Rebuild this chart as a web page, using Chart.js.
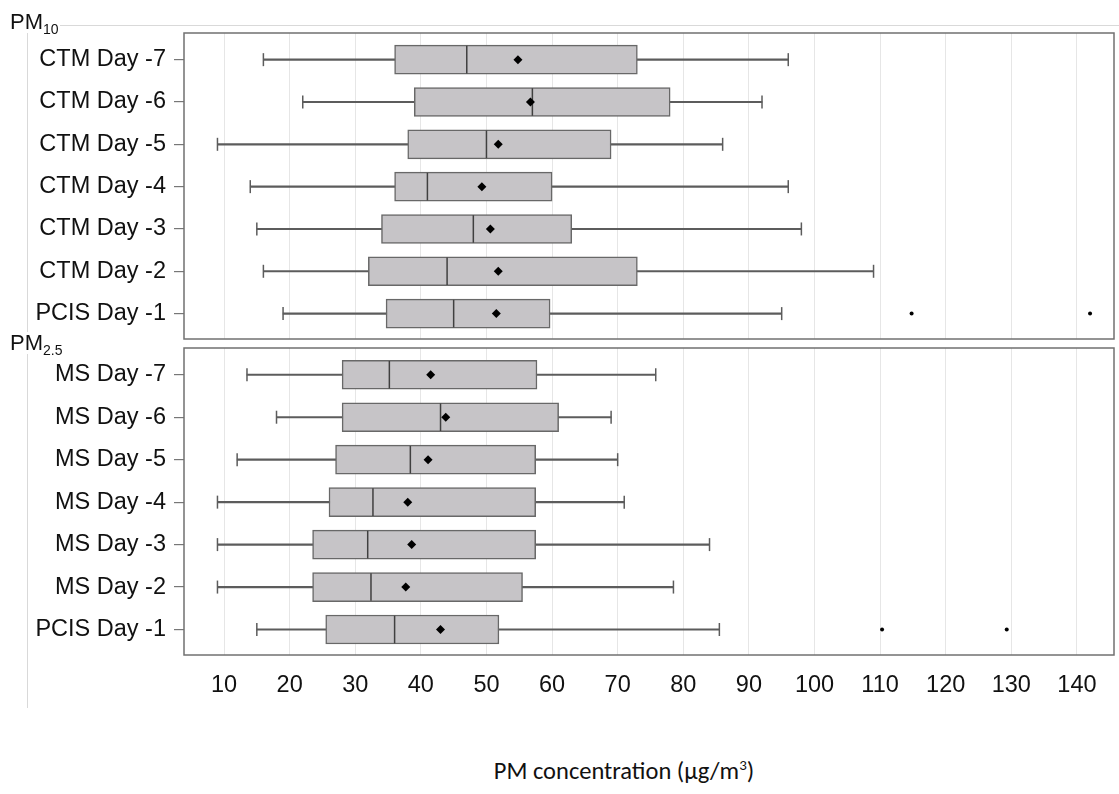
<!DOCTYPE html>
<html>
<head>
<meta charset="utf-8">
<title>PM concentration box plots</title>
<script src="https://cdn.jsdelivr.net/npm/chart.js@4.4.0/dist/chart.umd.min.js"></script>
<style>
  body { margin: 0; background: #fff; font-family: 'Liberation Sans', Arial, sans-serif; }
  #page { position: relative; width: 1119px; height: 794px; overflow: hidden; }
  .frame { position: absolute; left: 27px; top: 25px; width: 1092px; height: 682px;
           border-top: 1px solid #d9d9d9; border-left: 1px solid #d9d9d9; }
  .panel { position: absolute; left: 0; width: 1119px; }
  .group { position: absolute; left: 10px; font-size: 22px; line-height: 22px; color: #111; background: #fff; padding-right: 1px; }
  .group sub { font-size: 14px; vertical-align: -5px; line-height: 0; }
  .title { position: absolute; left: 324px; width: 600px; top: 756px; text-align: center;
           font-family: Carlito, Lato, 'Open Sans', sans-serif; font-size: 24.5px; line-height: 30px; color: #111; }
  .title sup { font-size: 15px; vertical-align: 9px; line-height: 0; }
</style>
</head>
<body>
<div id="page">
  <div class="frame"></div>
  <div class="panel" style="top:0; height:345px;"><canvas id="pm10Chart"></canvas></div>
  <div class="panel" style="top:340px; height:375px;"><canvas id="pm25Chart"></canvas></div>
  <div class="group" style="top:11px;">PM<sub>10</sub></div>
  <div class="group" style="top:332px;">PM<sub>2.5</sub></div>
  <div class="title">PM concentration (μg/m<sup>3</sup>)</div>
</div>
<script>
// x axis ticks
const xTicks = [10, 20, 30, 40, 50, 60, 70, 80, 90, 100, 110, 120, 130, 140];

// PM10 panel
const pm10Rows = ['CTM Day -7', 'CTM Day -6', 'CTM Day -5', 'CTM Day -4', 'CTM Day -3', 'CTM Day -2', 'PCIS Day -1'];
const pm10Low = [16, 22, 9, 14, 15, 16, 19];
const pm10Q1 = [36, 39, 38, 36, 34, 32, 34.7];
const pm10Median = [47, 57, 50, 41, 48, 44, 45];
const pm10Mean = [54.8, 56.7, 51.8, 49.3, 50.6, 51.8, 51.5];
const pm10Q3 = [73, 78, 69, 60, 63, 73, 59.7];
const pm10High = [96, 92, 86, 96, 98, 109, 95];
const pm10OutlierValues = [114.8, 142.0];
const pm10OutlierRows = [6, 6];

// PM2.5 panel
const pm25Rows = ['MS Day -7', 'MS Day -6', 'MS Day -5', 'MS Day -4', 'MS Day -3', 'MS Day -2', 'PCIS Day -1'];
const pm25Low = [13.5, 18, 12, 9, 9, 9, 15];
const pm25Q1 = [28, 28, 27, 26, 23.5, 23.5, 25.5];
const pm25Median = [35.2, 43, 38.4, 32.7, 31.9, 32.4, 36];
const pm25Mean = [41.5, 43.8, 41.1, 38, 38.6, 37.7, 43];
const pm25Q3 = [57.7, 61, 57.5, 57.5, 57.5, 55.5, 51.9];
const pm25High = [75.8, 69, 70, 71, 84, 78.5, 85.5];
const pm25OutlierValues = [110.3, 129.3];
const pm25OutlierRows = [6, 6];

const LINE = '#5c5c5c';
const BOX_FILL = '#c6c4c7';
const LABEL_FONT = { family: "'Liberation Sans', Arial, sans-serif", size: 23.5 };

// draws the border round the plot area
const panelFrame = {
    id: 'panelFrame',
    afterDraw(chart) {
        const a = chart.chartArea;
        const ctx = chart.ctx;
        ctx.save();
        ctx.strokeStyle = '#707070';
        ctx.lineWidth = 1.5;
        ctx.strokeRect(a.left, a.top, a.right - a.left, a.bottom - a.top);
        ctx.restore();
    }
};

function buildPanel(id, rows, low, q1, median, mean, q3, high, outVals, outRows, showTicks) {
    const ctx = document.getElementById(id).getContext('2d');
    const idx = rows.map((r, i) => i);

    const caps = [];
    idx.forEach(i => {
        caps.push({ x: low[i], y: i });
        caps.push({ x: high[i], y: i });
    });

    return new Chart(ctx, {
        type: 'bar',
        data: {
            datasets: [
                {
                    // whisker line low..high
                    data: idx.map(i => ({ x: [low[i], high[i]], y: i })),
                    backgroundColor: LINE,
                    barThickness: 1.5,
                    grouped: false,
                    order: 5
                },
                {
                    // interquartile box
                    data: idx.map(i => ({ x: [q1[i], q3[i]], y: i })),
                    backgroundColor: BOX_FILL,
                    borderColor: '#686868',
                    borderWidth: 1.5,
                    borderSkipped: false,
                    barThickness: 29,
                    grouped: false,
                    order: 4
                },
                {
                    type: 'scatter',
                    data: idx.map(i => ({ x: median[i], y: i })),
                    pointStyle: 'line',
                    rotation: 90,
                    radius: 13.8,
                    borderColor: '#404040',
                    borderWidth: 1.5,
                    order: 3
                },
                {
                    type: 'scatter',
                    data: caps,
                    pointStyle: 'line',
                    rotation: 90,
                    radius: 6.5,
                    borderColor: LINE,
                    borderWidth: 1.5,
                    order: 3
                },
                {
                    type: 'scatter',
                    data: idx.map(i => ({ x: mean[i], y: i })),
                    pointStyle: 'rectRot',
                    radius: 4.5,
                    backgroundColor: '#000',
                    borderColor: '#000',
                    borderWidth: 0,
                    order: 2
                },
                {
                    type: 'scatter',
                    data: outVals.map((v, k) => ({ x: v, y: outRows[k] })),
                    pointStyle: 'circle',
                    radius: 2,
                    backgroundColor: '#000',
                    borderWidth: 0,
                    order: 1
                }
            ]
        },
        options: {
            indexAxis: 'y',
            responsive: true,
            maintainAspectRatio: false,
            animation: false,
            events: [],
            layout: {
                autoPadding: false,
                padding: showTicks ? { top: 8, right: 5, bottom: 0, left: 0 }
                                   : { top: 33, right: 5, bottom: 6, left: 0 }
            },
            plugins: {
                legend: { display: false },
                tooltip: { enabled: false }
            },
            scales: {
                x: {
                    type: 'linear',
                    min: 3.9,
                    max: 145.65,
                    afterBuildTicks: axis => { axis.ticks = xTicks.map(v => ({ value: v })); },
                    afterFit: axis => { axis.height = showTicks ? 60 : 0; },
                    border: { display: false },
                    grid: { color: '#e6e6e6', lineWidth: 1, drawTicks: false },
                    ticks: {
                        display: showTicks,
                        padding: 16,
                        color: '#111',
                        font: LABEL_FONT
                    }
                },
                y: {
                    type: 'linear',
                    reverse: true,
                    offset: false,
                    min: -0.63,
                    max: 6.6,
                    afterBuildTicks: axis => { axis.ticks = idx.map(v => ({ value: v })); },
                    afterFit: axis => {
                        // row labels sit well inside the plot, no extra room needed
                        axis.width = 184;
                        axis.paddingTop = 0;
                        axis.paddingBottom = 0;
                    },
                    border: { display: false },
                    grid: { offset: false, drawOnChartArea: false, drawTicks: true, tickLength: 10, color: '#777', lineWidth: 1.2 },
                    ticks: {
                        padding: 8,
                        color: '#111',
                        font: LABEL_FONT,
                        callback: value => rows[value]
                    }
                }
            }
        },
        plugins: [panelFrame]
    });
}

document.addEventListener('DOMContentLoaded', function() {
    buildPanel('pm10Chart', pm10Rows, pm10Low, pm10Q1, pm10Median, pm10Mean, pm10Q3, pm10High,
               pm10OutlierValues, pm10OutlierRows, false);
    buildPanel('pm25Chart', pm25Rows, pm25Low, pm25Q1, pm25Median, pm25Mean, pm25Q3, pm25High,
               pm25OutlierValues, pm25OutlierRows, true);
});
</script>
</body>
</html>
